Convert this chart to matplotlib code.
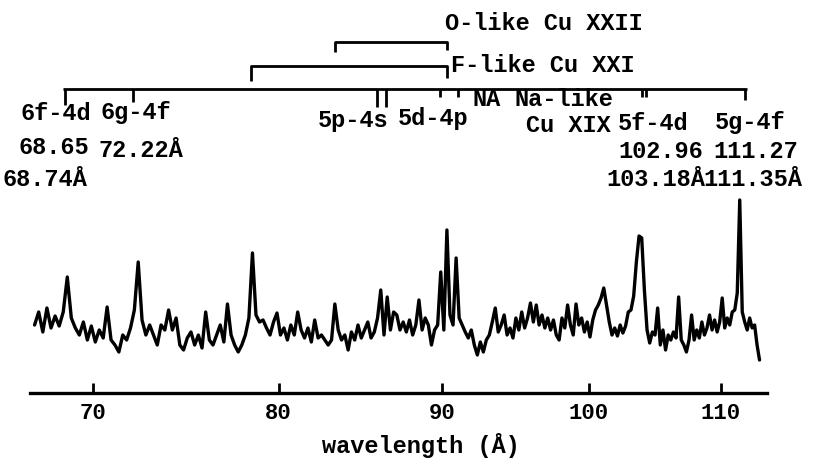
import numpy as np
import matplotlib
matplotlib.use("Agg")
import matplotlib.pyplot as plt
from matplotlib.ticker import FixedLocator, FixedFormatter, NullLocator, NullFormatter

# ---------------- data ----------------
# spectrum sampled every 0.2 Å starting at 67.1 Å (intensity, arbitrary units)
start_wl = 67.1
step_wl = 0.2
intensity = [
    68, 81, 61, 85, 65, 77, 67, 81, 116, 75,      # 67.1 - 68.9
    65, 58, 71, 53, 67, 51, 63, 55, 86, 53,       # 69.1 - 70.9
    48, 41, 58, 53, 65, 83, 131, 73, 58, 68,      # 71.1 - 72.9
    58, 48, 68, 63, 83, 63, 75, 48, 43, 55,       # 73.1 - 74.9
    61, 48, 58, 45, 81, 53, 48, 58, 68, 51,       # 75.1 - 76.9
    89, 58, 48, 41, 48, 58, 75, 140, 78, 71,      # 77.1 - 78.9
    73, 65, 58, 71, 80, 58, 65, 53, 68, 58,       # 79.1 - 80.9
    81, 63, 55, 65, 51, 73, 55, 58, 53, 48,       # 81.1 - 82.9
    53, 89, 63, 53, 58, 43, 61, 53, 68, 55,       # 83.1 - 84.9
    63, 71, 55, 61, 75, 103, 58, 96, 63, 81,      # 85.1 - 86.9
    78, 63, 71, 61, 73, 58, 68, 93, 63, 75,       # 87.1 - 88.9
    68, 48, 63, 68, 121, 63, 163, 78, 68, 135,    # 89.1 - 90.9
    75, 68, 61, 55, 63, 48, 38, 51, 41, 53,       # 91.1 - 92.9
    58, 71, 85, 61, 68, 78, 58, 65, 55, 75,       # 93.1 - 94.9
    63, 81, 65, 75, 90, 71, 88, 68, 78, 65,       # 95.1 - 96.9
    75, 63, 73, 58, 53, 75, 65, 88, 68, 58,       # 97.1 - 98.9
    89, 68, 75, 61, 71, 56, 73, 83, 88, 95,       # 99.1 - 100.9
    105, 88, 71, 58, 65, 57, 68, 60, 67, 81,      # 101.1 - 102.9
    83, 97, 131, 157, 155, 103, 63, 50, 61, 58,   # 103.1 - 104.9
    85, 48, 63, 43, 58, 53, 61, 55, 96, 53,       # 105.1 - 106.9
    48, 41, 53, 78, 53, 63, 55, 71, 58, 65,       # 107.1 - 108.9
    78, 63, 73, 61, 71, 95, 65, 75, 68, 81,       # 109.1 - 110.9
    83, 100, 193, 81, 71, 63, 75, 65, 68, 48, 33, # 111.1 - 113.1
]
wavelength = start_wl + step_wl * np.arange(len(intensity))

tick_values = [70, 80, 90, 100, 110]
tick_labels = ["70", "80", "90", "100", "110"]

# line-identification marks (Å)
id_marks = [68.60, 72.05, 85.88, 86.44, 89.85, 91.02, 103.92, 104.22, 111.93]
f_like_lines = [78.42, 90.30]
o_like_lines = [83.32, 90.30]

# ---------------- style ----------------
FONT = ["Liberation Mono", "DejaVu Sans Mono"]
plt.rcParams["font.family"] = FONT
plt.rcParams["font.weight"] = "bold"
FS = 17
W, H = 814, 466

fig = plt.figure(figsize=(W / 100, H / 100), dpi=100)
ax = fig.add_axes([30 / W, 73 / H, 737 / W, 393 / H])
ax.set_xscale("log")
ax.set_xlim(66.88, 113.71)
ax.set_ylim(0, 393)

ax.plot(wavelength, intensity, color="black", lw=2.4,
        solid_joinstyle="round", solid_capstyle="round")

for s in ["top", "left", "right"]:
    ax.spines[s].set_visible(False)
ax.spines["bottom"].set_linewidth(2.4)
ax.set_yticks([])
ax.xaxis.set_major_locator(FixedLocator(tick_values))
ax.xaxis.set_major_formatter(FixedFormatter(tick_labels))
ax.xaxis.set_minor_locator(NullLocator())
ax.xaxis.set_minor_formatter(NullFormatter())
ax.tick_params(axis="x", direction="in", length=7, width=2, pad=7,
               labelsize=FS - 1)
ax.set_xlabel("wavelength (Å)", fontsize=FS, fontweight="bold")
ax.xaxis.label.set_va("center")
ax.xaxis.set_label_coords((421 - 30) / 737, -(445 - 393) / 393)

# ---------- identification annotations ----------
LW = 2.0
kw = dict(color="black", lw=LW, clip_on=False, solid_capstyle="butt")
main_y = 304
ax.plot([68.50, 112.1], [main_y, main_y], **kw)
mark_bottoms = [288, 291, 286, 286, 296, 296, 296, 296, 293]
for w, b in zip(id_marks, mark_bottoms):
    ax.plot([w, w], [main_y, b], **kw)

# F-like bracket
ax.plot([f_like_lines[0], f_like_lines[0], f_like_lines[1], f_like_lines[1]],
        [312, 327, 327, 315], **kw)
# O-like bracket
ax.plot([o_like_lines[0], o_like_lines[0], o_like_lines[1], o_like_lines[1]],
        [341, 351, 351, 343], **kw)


def label(s, x, y, ha="left"):
    fig.text(x / W, 1 - y / H, s, ha=ha, va="center", fontsize=FS,
             family=FONT, weight="bold")


label("O-like Cu XXII", 445, 23)
label("F-like Cu XXI", 451, 65)
label("6f-4d", 21, 113)
label("6g-4f", 101, 113)
label("5p-4s", 318, 120)
label("5d-4p", 398, 119)
label("NA", 473, 100)
label("Na-like", 515, 100)
label("Cu XIX", 526, 126)
label("5f-4d", 618, 123)
label("5g-4f", 715, 123)
label("68.65", 18, 148)
label("72.22Å", 98, 150)
label("68.74Å", 3, 180)
label("102.96", 618, 152)
label("111.27", 713, 152)
label("103.18Å", 705, 180, ha="right")
label("111.35Å", 703, 180)

fig.savefig("out.png", dpi=100)
